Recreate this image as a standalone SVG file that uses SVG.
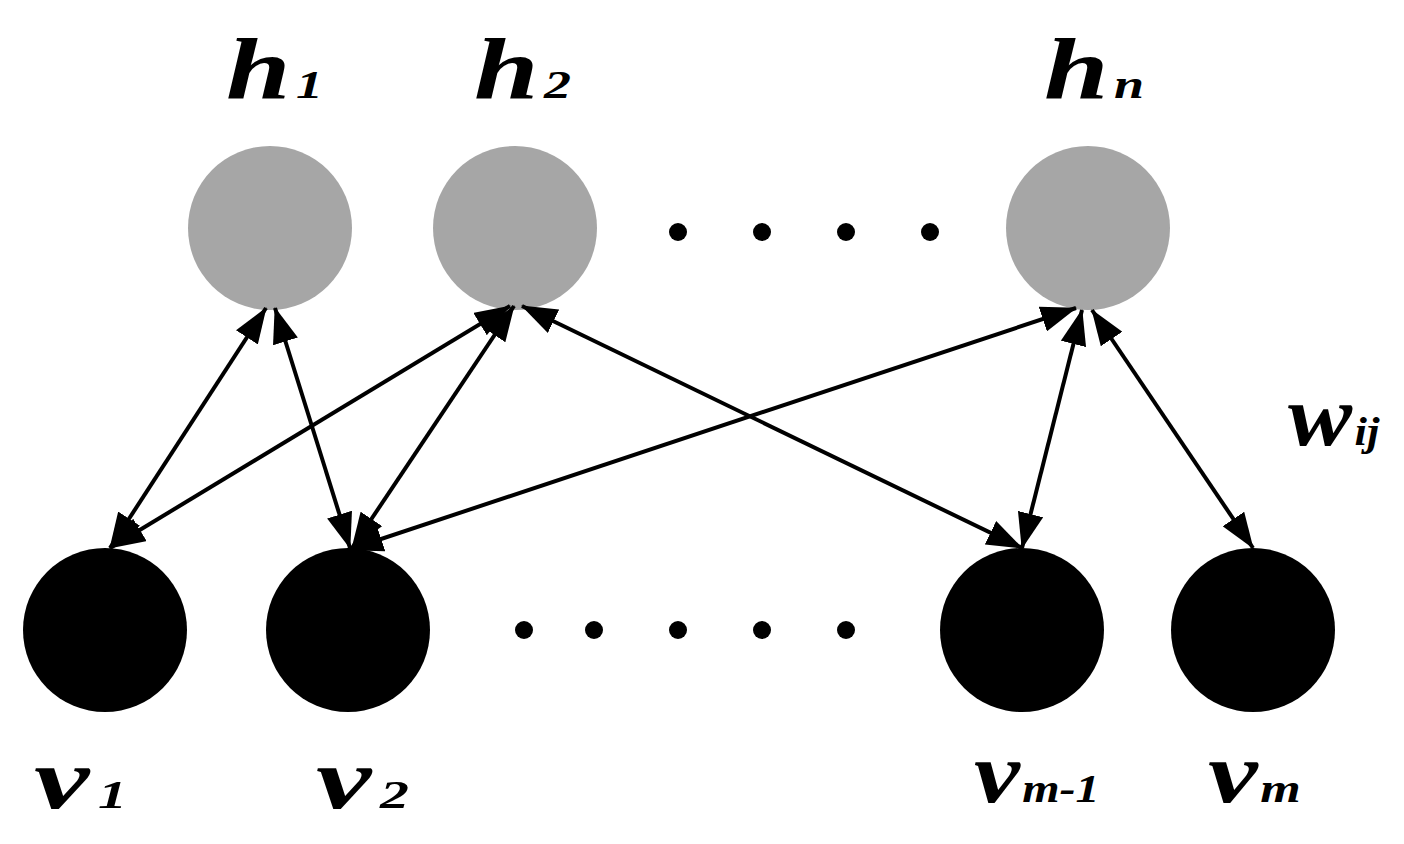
<svg xmlns="http://www.w3.org/2000/svg" width="1404" height="844" viewBox="0 0 1404 844">
<style>
.h{fill:#a6a6a6}.v{fill:#000}.d{fill:#000}
.lbl{font-family:"Liberation Serif",serif;font-weight:bold;font-style:italic;fill:#000}
.big{font-size:86px}.sub{font-size:40px}
.c{stroke:#000;stroke-width:4;fill:none;marker-start:url(#a);marker-end:url(#a)}
</style>
<defs>
<marker id="a" viewBox="0 0 36 26" refX="35" refY="13" markerWidth="36" markerHeight="26" markerUnits="userSpaceOnUse" orient="auto-start-reverse">
<path d="M0,0 L36,13 L0,26 Z" fill="#000"/>
</marker>
</defs>
<rect width="1404" height="844" fill="#fff"/>
<g id="h1"><circle class="h" cx="270" cy="228" r="82"/><text class="lbl" transform="translate(226,98) scale(1.35,1)"><tspan class="big">h</tspan><tspan class="sub" dx="4">1</tspan></text></g>
<g id="h2"><circle class="h" cx="515" cy="228" r="82"/><text class="lbl" transform="translate(474,98) scale(1.35,1)"><tspan class="big">h</tspan><tspan class="sub" dx="4">2</tspan></text></g>
<g id="hn"><circle class="h" cx="1088" cy="228" r="82"/><text class="lbl" transform="translate(1044,98) scale(1.35,1)"><tspan class="big">h</tspan><tspan class="sub" dx="4">n</tspan></text></g>
<g id="v1"><circle class="v" cx="105" cy="630" r="82"/><text class="lbl" transform="translate(34,808) scale(1.45,1)"><tspan class="big">v</tspan><tspan class="sub" dx="6">1</tspan></text></g>
<g id="v2"><circle class="v" cx="348" cy="630" r="82"/><text class="lbl" transform="translate(316,808) scale(1.45,1)"><tspan class="big">v</tspan><tspan class="sub" dx="6">2</tspan></text></g>
<g id="vm1"><circle class="v" cx="1022" cy="630" r="82"/><text class="lbl" transform="translate(974,802) scale(1.2,1)"><tspan class="big">v</tspan><tspan class="sub" dx="2">m-1</tspan></text></g>
<g id="vm"><circle class="v" cx="1253" cy="630" r="82"/><text class="lbl" transform="translate(1208,802) scale(1.3,1)"><tspan class="big">v</tspan><tspan class="sub" dx="2">m</tspan></text></g>
<g id="dots">
<circle class="d" cx="678" cy="232" r="9"/><circle class="d" cx="762" cy="232" r="9"/><circle class="d" cx="846" cy="232" r="9"/><circle class="d" cx="930" cy="232" r="9"/>
<circle class="d" cx="524" cy="630" r="9"/><circle class="d" cx="594" cy="630" r="9"/><circle class="d" cx="678" cy="630" r="9"/><circle class="d" cx="762" cy="630" r="9"/><circle class="d" cx="846" cy="630" r="9"/>
</g>
<g id="connectors">
<line class="c" x1="266" y1="308" x2="110" y2="548"/>
<line class="c" x1="275" y1="308" x2="350" y2="548"/>
<line class="c" x1="510" y1="306" x2="110" y2="548"/>
<line class="c" x1="514" y1="306" x2="352" y2="548"/>
<line class="c" x1="522" y1="306" x2="1022" y2="548"/>
<line class="c" x1="1076" y1="308" x2="348" y2="550"/>
<line class="c" x1="1082" y1="310" x2="1022" y2="548"/>
<line class="c" x1="1092" y1="310" x2="1253" y2="548"/>
</g>
<text class="lbl" transform="translate(1288,445) scale(1.12,1)"><tspan class="big">w</tspan><tspan class="sub" dx="2">ij</tspan></text>
</svg>
